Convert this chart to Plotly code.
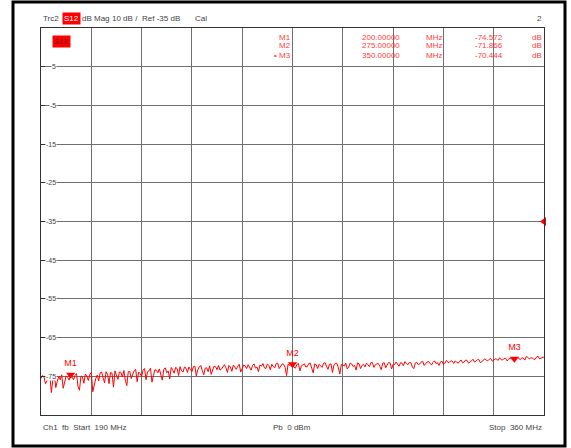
import plotly.graph_objects as go

# ---------------- data ----------------
freq_start = 190
freq_stop = 360

# trace values at whole MHz (190 ... 360)
s12_db = [
    -75.6, -75.1, -76.2, -74.9, -75.8, -77.9, -75.0, -74.6, -76.8, -75.3,
    -74.572, -75.9, -74.3, -78.6, -75.2, -74.4, -76.1, -74.0, -77.2, -74.7,
    -74.1, -75.4, -73.8, -76.9, -74.2, -73.6, -75.8, -74.0, -73.5, -77.4,
    -73.7, -74.6, -73.2, -73.9, -75.1, -73.0, -73.8, -72.9, -74.8, -73.4,
    -73.1, -76.0, -72.8, -73.6, -72.7, -74.2, -73.0, -72.5, -73.9, -72.9,
    -72.6, -73.8, -72.4, -73.3, -72.2, -74.6, -72.8, -72.3, -73.5, -72.5,
    -72.2, -73.1, -72.0, -74.0, -72.6, -72.1, -73.2, -71.9, -72.7, -72.3,
    -72.0, -73.4, -71.8, -72.6, -72.1, -71.7, -73.0, -72.2, -71.9, -72.8,
    -71.6, -72.4, -71.9, -74.8, -72.2, -71.866, -72.9, -71.7, -72.3, -71.8,
    -72.5, -71.6, -74.1, -72.0, -71.9, -72.7, -71.5, -73.2, -71.8, -72.1,
    -71.7, -74.4, -72.0, -71.6, -72.6, -71.8, -72.2, -71.5, -73.0, -71.9,
    -71.6, -72.5, -71.4, -72.0, -71.7, -73.3, -71.5, -72.1, -71.6, -71.9,
    -71.3, -72.4, -71.6, -71.2, -72.0, -71.5, -73.0, -71.4, -71.8, -71.1,
    -71.6, -71.2, -72.1, -71.0, -71.5, -71.3, -71.9, -70.9, -71.4, -71.1,
    -71.0, -71.6, -70.8, -71.3, -70.9, -71.4, -70.6, -71.1, -70.7, -71.2,
    -70.5, -71.0, -70.4, -70.9, -70.6, -70.2, -70.8, -70.3, -70.7, -70.5,
    -70.444, -70.1, -70.7, -70.3, -69.9, -70.5, -70.2, -70.6, -69.8, -70.3, -70.0,
]

# trace values at half MHz (190.5 ... 359.5)
s12_db_half = [
    -74.8, -76.9, -75.4, -79.2, -74.6, -76.3, -75.9, -78.1, -74.9, -76.0,
    -75.3, -74.8, -77.6, -74.9, -76.8, -75.0, -74.5, -79.0, -75.6, -76.2,
    -73.9, -76.7, -74.5, -74.0, -77.8, -74.6, -73.9, -75.2, -76.0, -73.8,
    -75.6, -73.5, -76.4, -74.3, -73.4, -75.9, -73.6, -76.5, -73.3, -74.1,
    -74.6, -73.2, -74.1, -75.7, -73.3, -72.7, -74.8, -73.6, -72.6, -74.0,
    -73.2, -72.5, -74.9, -72.6, -73.5, -72.9, -73.8, -74.5, -72.4, -73.3,
    -73.4, -72.5, -72.8, -72.2, -73.7, -72.6, -72.4, -73.9, -72.1, -73.0,
    -72.7, -72.2, -72.9, -73.8, -72.4, -72.8, -71.8, -73.3, -72.5, -71.7,
    -73.0, -71.8, -72.7, -71.9, -71.5, -72.6, -71.9, -73.6, -72.0, -72.6,
    -71.7, -72.9, -71.8, -73.0, -72.3, -71.6, -72.4, -71.9, -74.0, -71.6,
    -72.8, -71.9, -72.4, -73.1, -71.6, -72.5, -73.4, -71.8, -72.2, -72.6,
    -72.0, -71.5, -72.7, -71.8, -72.4, -71.6, -72.8, -71.4, -73.1, -72.0,
    -71.9, -71.5, -72.3, -71.7, -71.4, -72.6, -71.6, -72.0, -71.3, -72.2,
    -71.3, -71.8, -71.4, -71.7, -72.2, -71.1, -71.6, -71.4, -71.0, -71.7,
    -71.4, -71.1, -71.5, -70.8, -71.6, -71.0, -71.3, -70.7, -71.5, -70.8,
    -70.8, -70.6, -71.1, -70.5, -70.9, -70.7, -70.4, -71.0, -70.2, -70.8,
    -70.6, -70.4, -70.2, -70.8, -70.1, -70.3, -70.6, -70.0, -70.5, -70.2,
]

marker_names = ["M1", "M2", "M3"]
marker_freq = [200.0, 275.0, 350.0]
marker_db = [-74.572, -71.866, -70.444]

ref_level = -35
y_min, y_max = -85, 15
y_tick_values = [5, -5, -15, -25, -35, -45, -55, -65, -75]
y_tick_labels = ["5", "-5", "-15", "-25", "-35", "-45", "-55", "-65", "-75"]

header_parts = ["Trc2", "S12", "dB Mag", "10 dB /", "Ref -35 dB", "Cal"]
footer_left = "Ch1  fb  Start  190 MHz"
footer_mid = "Pb  0 dBm"
footer_right = "Stop  360 MHz"

# merge whole and half MHz samples into one sweep
trace_x, trace_y = [], []
for i in range(len(s12_db_half)):
    trace_x += [freq_start + i, freq_start + i + 0.5]
    trace_y += [s12_db[i], s12_db_half[i]]
trace_x.append(freq_stop)
trace_y.append(s12_db[-1])

# ---------------- layout helpers ----------------
W, H = 571, 448
L, R, T, B = 41, 544, 28, 415


def px(x):
    return (x - L) / (R - L)


def py(y):
    return (B - y) / (B - T)


FONT = "Liberation Sans, Arial, sans-serif"
RED = "#ff0000"
TXT_RED = "#ff3b3b"
GREY = "#444444"
FS = 8

fig = go.Figure()

fig.add_trace(go.Scatter(
    x=trace_x, y=trace_y, mode="lines",
    line=dict(color=RED, width=1), hoverinfo="skip", showlegend=False,
))

fig.add_trace(go.Scatter(
    x=marker_freq, y=marker_db, mode="markers+text",
    text=marker_names, textposition="top center",
    textfont=dict(family=FONT, size=9, color=RED),
    marker=dict(symbol="triangle-down", size=8, color=RED),
    cliponaxis=False, showlegend=False, hoverinfo="skip",
))

fig.add_trace(go.Scatter(
    x=[freq_stop], y=[ref_level], mode="markers",
    marker=dict(symbol="triangle-left", size=8, color=RED),
    cliponaxis=False, showlegend=False, hoverinfo="skip",
))

ann = []

# y tick labels inside the grid, on white
for v, lab in zip(y_tick_values, y_tick_labels):
    ann.append(dict(
        xref="paper", yref="y", x=px(57), y=v, text=lab, showarrow=False,
        xanchor="right", yanchor="middle", bgcolor="white", borderpad=0,
        font=dict(family=FONT, size=7, color=GREY),
    ))

# header line
header_x = [41, 62, 80, 110, 140, 193]
for t, xx in zip(header_parts, header_x):
    if t == "S12":
        ann.append(dict(xref="paper", yref="paper", x=px(xx), y=py(19), text=t,
                        showarrow=False, xanchor="left", yanchor="middle",
                        bgcolor=RED, borderpad=1,
                        font=dict(family=FONT, size=FS, color="white")))
    else:
        ann.append(dict(xref="paper", yref="paper", x=px(xx), y=py(19), text=t,
                        showarrow=False, xanchor="left", yanchor="middle",
                        font=dict(family=FONT, size=FS, color=GREY)))
ann.append(dict(xref="paper", yref="paper", x=px(544), y=py(19), text="2",
                showarrow=False, xanchor="right", yanchor="middle",
                font=dict(family=FONT, size=FS, color=GREY)))

# trace label box inside grid
ann.append(dict(xref="paper", yref="paper", x=px(52), y=py(41), text="S12",
                showarrow=False, xanchor="left", yanchor="middle",
                bgcolor=RED, borderpad=1,
                font=dict(family=FONT, size=8, color="#7a0000")))

# marker readout table
row_y = [37, 46, 55]
for i, (n, f, d) in enumerate(zip(marker_names, marker_freq, marker_db)):
    yy = py(row_y[i])
    name = ("\u2022 " + n) if i == len(marker_names) - 1 else n
    cells = [
        (name, 293, "right"),
        (f"{f:.5f}", 402, "right"),
        ("MHz", 424, "left"),
        (f"{d:.3f}", 505, "right"),
        ("dB", 530, "left"),
    ]
    for t, xx, anc in cells:
        ann.append(dict(xref="paper", yref="paper", x=px(xx), y=yy, text=t,
                        showarrow=False, xanchor=anc, yanchor="middle",
                        font=dict(family=FONT, size=FS, color=TXT_RED)))

# footer
ann.append(dict(xref="paper", yref="paper", x=px(41), y=py(428), text=footer_left,
                showarrow=False, xanchor="left", yanchor="middle",
                font=dict(family=FONT, size=FS, color=GREY)))
ann.append(dict(xref="paper", yref="paper", x=px(292), y=py(428), text=footer_mid,
                showarrow=False, xanchor="center", yanchor="middle",
                font=dict(family=FONT, size=FS, color=GREY)))
ann.append(dict(xref="paper", yref="paper", x=px(544), y=py(428), text=footer_right,
                showarrow=False, xanchor="right", yanchor="middle",
                font=dict(family=FONT, size=FS, color=GREY)))

shapes = [
    dict(type="rect", xref="paper", yref="paper",
         x0=px(13), x1=px(565), y0=py(446), y1=py(2),
         line=dict(color="black", width=3), fillcolor="rgba(0,0,0,0)", layer="above"),
]

fig.update_layout(
    width=W, height=H,
    margin=dict(l=L, r=W - R, t=T, b=H - B, pad=0),
    paper_bgcolor="white", plot_bgcolor="white",
    annotations=ann, shapes=shapes, showlegend=False,
    xaxis=dict(range=[freq_start, freq_stop], tick0=freq_start,
               dtick=(freq_stop - freq_start) / 10, showticklabels=False,
               showgrid=True, gridcolor="#6f6f6f", gridwidth=1,
               zeroline=False, showline=True, linecolor="#333333",
               linewidth=1, mirror=True, ticks=""),
    yaxis=dict(range=[y_min, y_max], tick0=y_min, dtick=10,
               showticklabels=False, showgrid=True, gridcolor="#6f6f6f",
               gridwidth=1, zeroline=False, showline=True,
               linecolor="#333333", linewidth=1, mirror=True,
               ticks="inside", ticklen=4, tickcolor="#333333"),
)

fig.write_html(
    "out.html",
    config={"displayModeBar": False},
    post_script="document.body.style.margin='0';document.body.style.overflow='hidden';",
)
